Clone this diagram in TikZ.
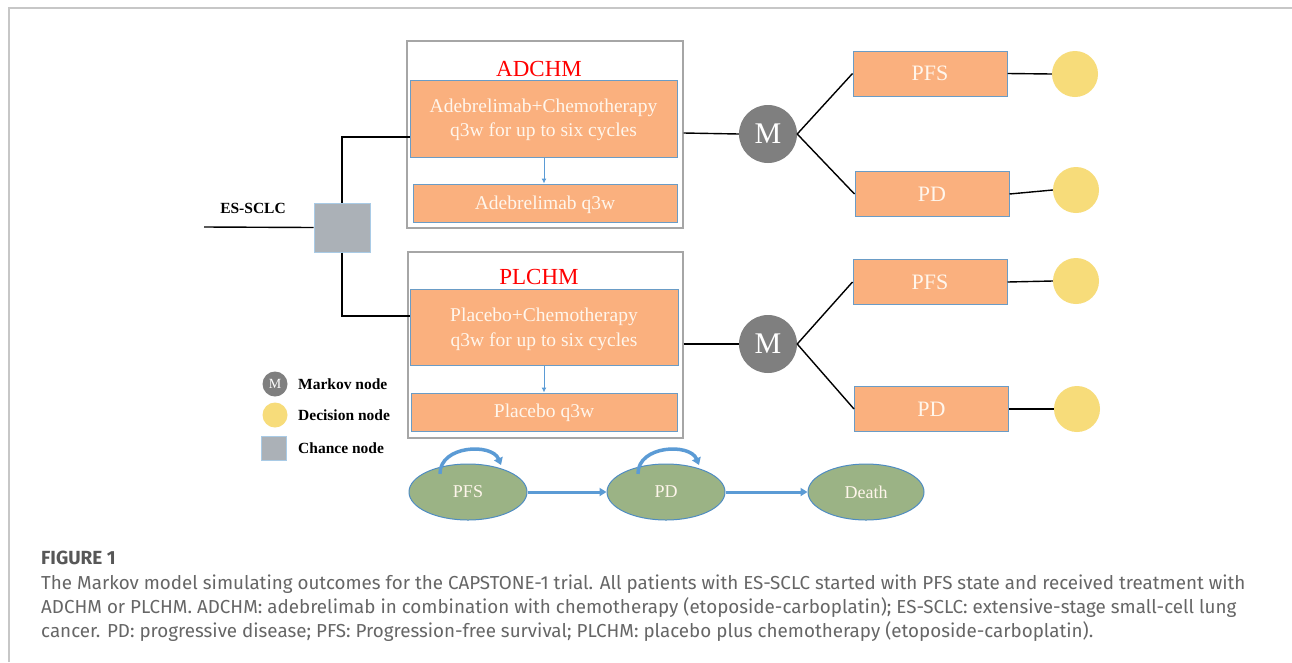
\documentclass[tikz,border=0pt]{standalone}
\usepackage{fontspec}
\setmainfont{Liberation Serif}
\newfontfamily\capfont{Fira Sans}
\usetikzlibrary{arrows.meta,shapes.geometric}
\definecolor{orng}{HTML}{FAB07E}
\definecolor{obord}{HTML}{6A9CC6}
\definecolor{txtw}{HTML}{FFF6EC}
\definecolor{cbox}{HTML}{A6A6A6}
\definecolor{mgray}{HTML}{7F7F7F}
\definecolor{yel}{HTML}{F7DC7A}
\definecolor{chg}{HTML}{ABB1B7}
\definecolor{chb}{HTML}{A9CBE6}
\definecolor{grn}{HTML}{9BB385}
\definecolor{eblue}{HTML}{4F8CC2}
\definecolor{ablue}{HTML}{5B9BD5}
\definecolor{capc}{HTML}{666666}
\tikzset{
  cont/.style={draw=cbox, line width=1.3pt, fill=white},
  obox/.style={draw=obord, line width=1pt, fill=orng, inner sep=0pt},
  otext/.style={text=txtw, font=\fontsize{19.5}{24.5}\selectfont, align=center, inner sep=0pt},
  sbox/.style={draw=obord, line width=1pt, fill=orng, text=txtw, font=\fontsize{22}{26}\selectfont, minimum width=154pt, minimum height=45pt, inner sep=0pt},
  mnode/.style={circle, fill=mgray, text=white, minimum size=58pt, inner sep=0pt, font=\fontsize{30}{32}\selectfont},
  dnode/.style={circle, fill=yel, minimum size=46pt, inner sep=0pt},
  redt/.style={text=red, font=\fontsize{23}{26}\selectfont},
  conn/.style={draw=black, line width=1.4pt},
  sarrow/.style={draw=ablue, line width=1pt, -{Latex[length=5pt,width=5pt]}},
  state/.style={ellipse, draw=eblue, line width=1pt, fill=grn, text=txtw, minimum width=118pt, minimum height=56pt, inner sep=0pt, font=\fontsize{18}{20}\selectfont},
  thick arrow/.style={draw=ablue, line width=3pt, -{Triangle[length=7pt,width=8pt]}},
  legt/.style={anchor=west, font=\bfseries\fontsize{15.5}{18}\selectfont, inner sep=0pt},
  capt/.style={anchor=west, inner sep=0pt, text=capc, font=\capfont\fontsize{18.8}{22}\selectfont},
}
\begin{document}
\begin{tikzpicture}[x=1pt, y=-1pt]
\useasboundingbox (0,0) rectangle (1292,662);
\fill[white] (0,0) rectangle (1292,662);
% outer frame
\draw[draw=black!22, line width=1.5pt] (9,662) -- (9,8) -- (1292,8);

% containers
\node[cont, minimum width=276pt, minimum height=187pt, inner sep=0pt] (c1) at (545,134.5) {};
\node[cont, minimum width=275pt, minimum height=186pt, inner sep=0pt] (c2) at (545.5,345) {};

\node[redt] (t1) at (539,69) {ADCHM};
\node[redt] (t2) at (539,277) {PLCHM};

\node[obox, minimum width=267pt, minimum height=77pt] (b1) at (543.5,118.5) {};
\node[otext] (b1t) at (543.5,120) {Adebrelimab+Chemotherapy\\q3w for up to six cycles};
\node[obox, minimum width=264pt, minimum height=38pt] (b2) at (545,203) {};
\node[otext] (b2t) at (545,204.5) {Adebrelimab q3w};
\node[obox, minimum width=268pt, minimum height=76pt] (b3) at (544,327) {};
\node[otext] (b3t) at (544,329.5) {Placebo+Chemotherapy\\q3w for up to six cycles};
\node[obox, minimum width=266pt, minimum height=38pt] (b4) at (544,412) {};
\node[otext] (b4t) at (544,413) {Placebo q3w};

\draw[sarrow] (b1.south -| 544,0) -- (b2.north -| 544,0);
\draw[sarrow] (b3.south -| 544,0) -- (b4.north -| 544,0);

% chance node
\node[draw=chb, line width=1pt, fill=chg, minimum width=56pt, minimum height=49pt, inner sep=0pt] (ch) at (342,227.5) {};
\node[font=\bfseries\fontsize{15.5}{18}\selectfont, inner sep=0pt] (es) at (253,208) {ES-SCLC};
\coordinate (start) at (204,227);
\draw[conn] (start) -- (ch.west);
\draw[conn] (ch.north) -- (342,137) -- (b1.west |- 0,137);
\draw[conn] (ch.south) -- (342,316) -- (b3.west |- 0,316);

% Markov nodes
\node[mnode] (m1) at (768,134) {M};
\node[mnode] (m2) at (768,344) {M};
\draw[conn] (c1.east |- 0,133) -- (m1.west);
\draw[conn] (c2.east |- 0,344) -- (m2.west);

\node[sbox] (pfs1) at (930,73.5) {PFS};
\node[sbox] (pd1) at (932,194) {PD};
\node[sbox] (pfs2) at (930,282) {PFS};
\node[sbox] (pd2) at (931.5,409) {PD};

\draw[conn] (m1.east) -- (pfs1.west);
\draw[conn] (m1.east) -- (pd1.west);
\draw[conn] (m2.east) -- (pfs2.west);
\draw[conn] (m2.east) -- (pd2.west);

\node[dnode] (d1) at (1075,74) {};
\node[dnode] (d2) at (1076,190) {};
\node[dnode] (d3) at (1076,281) {};
\node[dnode] (d4) at (1077,409) {};
\draw[conn] (pfs1.east) -- (d1.west);
\draw[conn] (pd1.east) -- (d2.west);
\draw[conn] (pfs2.east) -- (d3.west);
\draw[conn] (pd2.east) -- (d4.west);

% legend
\node[circle, fill=mgray, text=white, minimum size=25pt, inner sep=0pt, font=\fontsize{14}{16}\selectfont] (lm) at (275,384) {M};
\node[legt] (lmt) at (298,384) {Markov node};
\node[circle, fill=yel, minimum size=25pt, inner sep=0pt] (ld) at (275,415) {};
\node[legt] (ldt) at (298,415) {Decision node};
\node[draw=chb, line width=1pt, fill=chg, minimum width=25pt, minimum height=24pt, inner sep=0pt] (lc) at (273.5,448) {};
\node[legt] (lct) at (298,448) {Chance node};

% states
\node[state] (s1) at (468,492) {PFS};
\node[state] (s2) at (666,492) {PD};
\node[state, minimum width=116pt] (s3) at (866,492) {Death};
\draw[thick arrow] (s1.east) -- (s2.west);
\draw[thick arrow] (s2.east) -- (s3.west);
\draw[draw=ablue, line width=3.5pt, -{Triangle[length=7pt,width=9pt]}] (s1.north west) ++(14,2) .. controls (440,445) and (492,443) .. (501,465);
\draw[draw=ablue, line width=3.5pt, -{Triangle[length=7pt,width=9pt]}] (s2.north west) ++(14,2) .. controls (638,445) and (690,443) .. (699,465);

% caption
\node[anchor=west, inner sep=0pt, text=capc!85!black, font=\capfont\bfseries\fontsize{19}{22}\selectfont] (fig) at (41,558) {FIGURE 1};
\node[capt] (l1) at (41,584) {The Markov model simulating outcomes for the CAPSTONE-1 trial. All patients with ES-SCLC started with PFS state and received treatment with};
\node[capt] (l2) at (41,608) {ADCHM or PLCHM. ADCHM: adebrelimab in combination with chemotherapy (etoposide-carboplatin); ES-SCLC: extensive-stage small-cell lung};
\node[capt] (l3) at (41,632) {cancer. PD: progressive disease; PFS: Progression-free survival; PLCHM: placebo plus chemotherapy (etoposide-carboplatin).};
\end{tikzpicture}
\end{document}
